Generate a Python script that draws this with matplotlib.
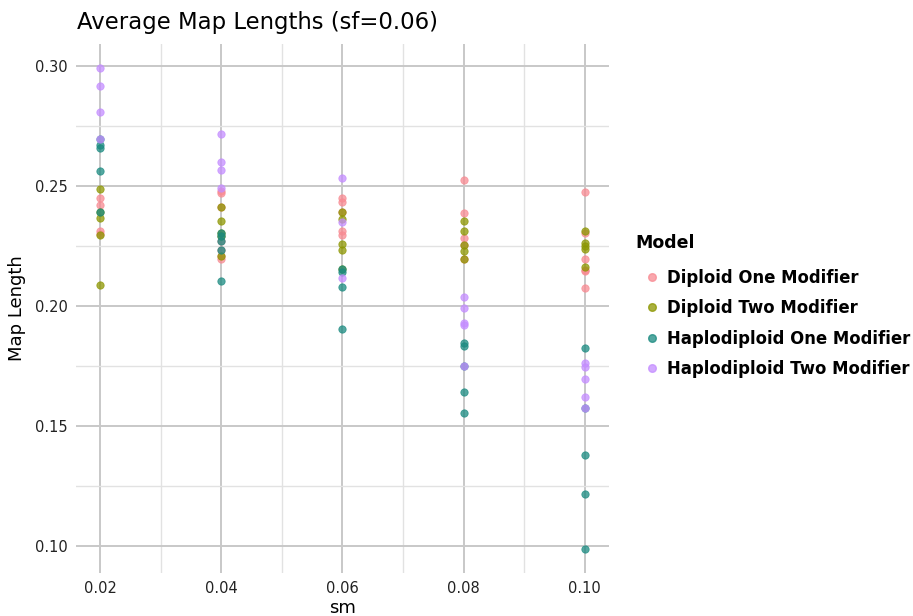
import numpy as np
import matplotlib.pyplot as plt
from matplotlib.lines import Line2D

# values
models = ['Diploid One Modifier', 'Diploid Two Modifier',
          'Haplodiploid One Modifier', 'Haplodiploid Two Modifier']
colors = ['#f88a92', '#8c9600', '#1a8a80', '#c48cff']

d1_sm = [0.02]*4 + [0.04]*7 + [0.06]*5 + [0.08]*5 + [0.10]*6
d1_len = [0.2451, 0.2421, 0.2313, 0.2300,
          0.2478, 0.2472, 0.2411, 0.2272, 0.2233, 0.2208, 0.2195,
          0.2449, 0.2432, 0.2390, 0.2314, 0.2296,
          0.2525, 0.2389, 0.2282, 0.2254, 0.2196,
          0.2476, 0.2305, 0.2195, 0.2150, 0.2146, 0.2074]

d2_sm = [0.02]*5 + [0.04]*5 + [0.06]*5 + [0.08]*5 + [0.10]*5
d2_len = [0.2486, 0.2390, 0.2365, 0.2296, 0.2088,
          0.2411, 0.2355, 0.2305, 0.2292, 0.2208,
          0.2390, 0.2361, 0.2258, 0.2233, 0.2154,
          0.2354, 0.2313, 0.2254, 0.2229, 0.2196,
          0.2314, 0.2264, 0.2250, 0.2236, 0.2164]

h1_sm = [0.02]*5 + [0.04]*5 + [0.06]*4 + [0.08]*5 + [0.10]*5
h1_len = [0.2695, 0.2670, 0.2660, 0.2563, 0.2390,
          0.2305, 0.2292, 0.2272, 0.2233, 0.2105,
          0.2154, 0.2143, 0.2081, 0.1903,
          0.1847, 0.1835, 0.1751, 0.1643, 0.1553,
          0.1826, 0.1576, 0.1378, 0.1215, 0.0988]

h2_sm = [0.02]*4 + [0.04]*4 + [0.06]*3 + [0.08]*5 + [0.10]*5
h2_len = [0.2990, 0.2917, 0.2810, 0.2695,
          0.2715, 0.2599, 0.2567, 0.2493,
          0.2532, 0.2349, 0.2115,
          0.2039, 0.1990, 0.1930, 0.1920, 0.1751,
          0.1764, 0.1747, 0.1697, 0.1622, 0.1576]

xticks = [0.02, 0.04, 0.06, 0.08, 0.10]
yticks = [0.10, 0.15, 0.20, 0.25, 0.30]

fig = plt.figure(figsize=(9.13, 6.16), dpi=100)
ax = fig.add_axes([0.083, 0.070, 0.584, 0.858])

series = [(d1_sm, d1_len), (d2_sm, d2_len), (h1_sm, h1_len), (h2_sm, h2_len)]
for (xs, ys), c, lab in zip(series, colors, models):
    ax.scatter(xs, ys, s=28, color=c, alpha=0.75, edgecolors=c, linewidths=0.6,
               label=lab, zorder=3)

ax.set_xlim(0.016, 0.104)
ax.set_ylim(0.0888, 0.309)
ax.set_xticks(xticks)
ax.set_yticks(yticks)
ax.set_xticks([0.03, 0.05, 0.07, 0.09], minor=True)
ax.set_yticks([0.125, 0.175, 0.225, 0.275], minor=True)
ax.set_xticklabels(['%.2f' % v for v in xticks])
ax.set_yticklabels(['%.2f' % v for v in yticks])
ax.grid(which='major', color='#c8c8c8', linewidth=1.4, zorder=0)
ax.grid(which='minor', color='#e2e2e2', linewidth=1.0, zorder=0)
ax.tick_params(which='both', length=0, labelsize=10.5, colors='#222222', pad=6)
for sp in ax.spines.values():
    sp.set_visible(False)
ax.set_axisbelow(True)

ax.set_xlabel('sm', fontsize=13, labelpad=2)
ax.set_ylabel('Map Length', fontsize=13, labelpad=6)
fig.text(0.084, 0.963, 'Average Map Lengths (sf=0.06)', fontsize=16.4, va='center')

# legend title drawn separately to match the gap above the entries
fig.text(0.696, 0.605, 'Model', fontsize=12.5, fontweight='bold', va='center')
handles = [Line2D([], [], marker='o', linestyle='', markersize=5.5, color=c, alpha=0.75)
           for c in colors]
leg = fig.legend(handles, models, loc='center left', bbox_to_anchor=(0.687, 0.475),
                 frameon=False, handletextpad=0.3, labelspacing=0.75,
                 handlelength=1.2, prop={'size': 11.9, 'weight': 'bold'})

plt.savefig('out.png', dpi=100)
